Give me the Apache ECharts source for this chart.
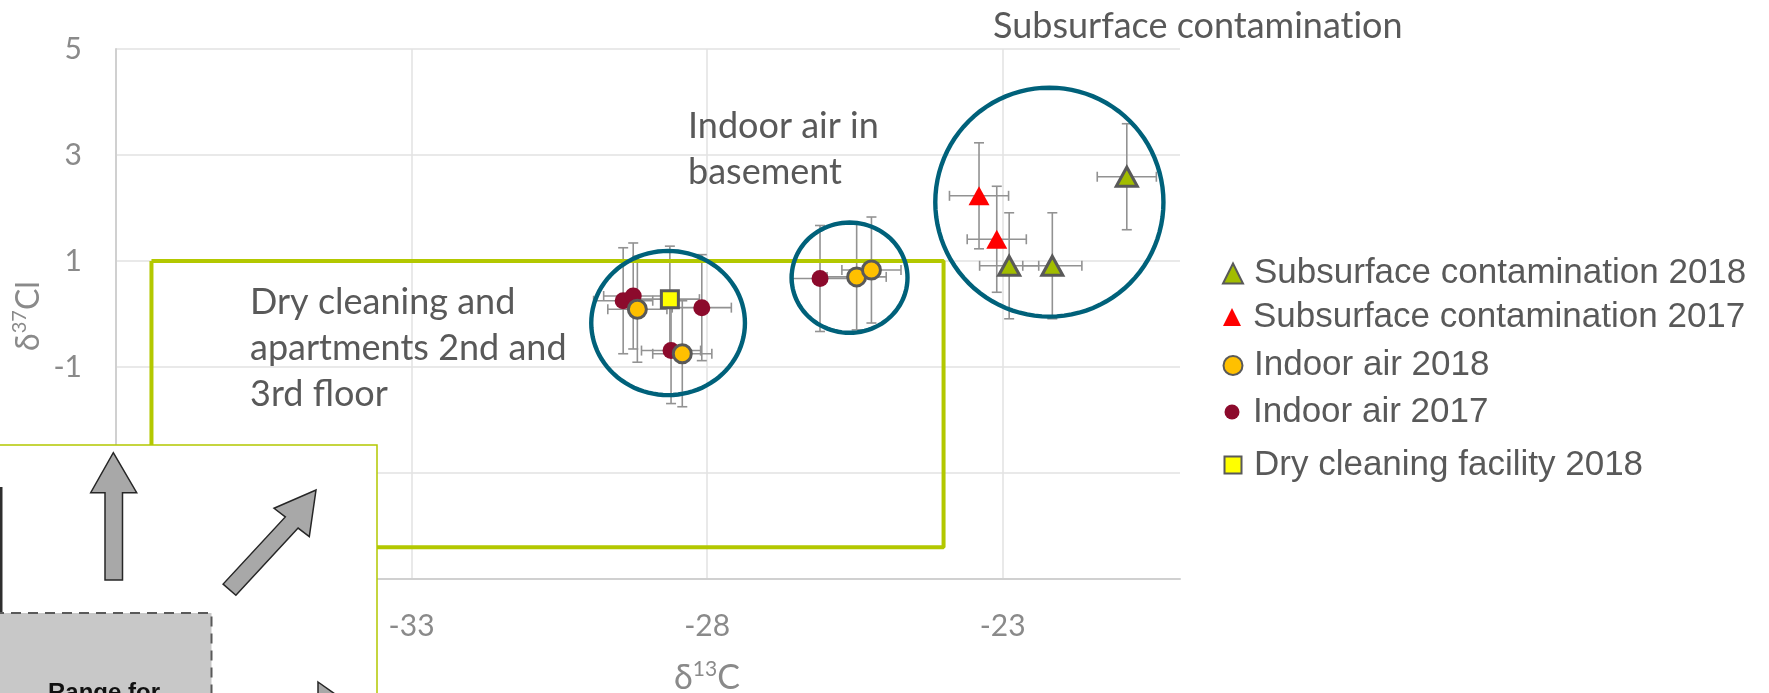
<!DOCTYPE html>
<html>
<head>
<meta charset="utf-8">
<script src="https://cdn.jsdelivr.net/npm/echarts@6/dist/echarts.min.js"></script>
<style>
  html, body { margin: 0; padding: 0; background: #ffffff; }
  #chart { width: 1769px; height: 693px; }
</style>
</head>
<body>
<div id="chart"></div>
<script>
// Isotope values [δ13C, δ37Cl] in ‰ for each sample group
const SUBSURFACE_2018 = [[-20.90, 2.59], [-22.89, 0.91], [-22.16, 0.91]];
const SUBSURFACE_2017 = [[-23.40, 2.23], [-23.10, 1.41]];
const INDOOR_2018 = [[-29.18, 0.09], [-28.42, -0.75], [-25.47, 0.70], [-25.22, 0.83]];
const INDOOR_2017 = [[-29.42, 0.25], [-29.25, 0.34], [-28.09, 0.12], [-28.61, -0.69], [-26.09, 0.67]];
const DRY_CLEANING_2018 = [[-28.63, 0.28]];

// Analytical uncertainty (± ‰)
const ERR_C13 = 0.5;
const ERR_CL37 = 1.0;

// Range box for the product signature
const RANGE_C13 = [-37.4, -24.0];
const RANGE_CL37 = [-4.4, 1.0];

// Grouping rings: [centre δ13C, centre δ37Cl, half-width δ13C, half-height δ37Cl]
const RINGS = [
  [-28.66, -0.17, 1.30, 1.36],
  [-25.59, 0.685, 0.98, 1.04],
  [-22.21, 2.11, 1.93, 2.16]
];

const X_TICKS = [-38, -33, -28, -23];
const Y_TICKS = [-5, -3, -1, 1, 3, 5];

const NAMES = [
  'Subsurface contamination 2018',
  'Subsurface contamination 2017',
  'Indoor air 2018',
  'Indoor air 2017',
  'Dry cleaning facility 2018'
];

const GREY_TEXT = '#8a8a8a';
const DARK_TEXT = '#595959';
const LABEL_FONT = 'Lato';
const ZWNJ = '\u200C'; // keeps "t" + "i" from merging into a ligature

const chart = echarts.init(document.getElementById('chart'), null, { renderer: 'canvas' });

// Cross-shaped error bars with end caps
function errorBars(data) {
  return {
    type: 'custom',
    silent: true,
    z: 2,
    data: data,
    encode: { x: 0, y: 1 },
    renderItem: function (params, api) {
      const x = api.value(0), y = api.value(1);
      const l = api.coord([x - ERR_C13, y]);
      const r = api.coord([x + ERR_C13, y]);
      const t = api.coord([x, y + ERR_CL37]);
      const b = api.coord([x, y - ERR_CL37]);
      const cap = 5;
      const style = { stroke: '#929292', lineWidth: 1.6 };
      const seg = (x1, y1, x2, y2) => ({ type: 'line', shape: { x1, y1, x2, y2 }, style });
      return {
        type: 'group',
        children: [
          seg(l[0], l[1], r[0], r[1]),
          seg(l[0], l[1] - cap, l[0], l[1] + cap),
          seg(r[0], r[1] - cap, r[0], r[1] + cap),
          seg(t[0], t[1], b[0], b[1]),
          seg(t[0] - cap, t[1], t[0] + cap, t[1]),
          seg(b[0] - cap, b[1], b[0] + cap, b[1])
        ]
      };
    }
  };
}

// Elliptical rings traced in axis units
const ringSeries = {
  type: 'custom',
  silent: true,
  z: 4,
  data: RINGS,
  encode: { x: 0, y: 1 },
  renderItem: function (params, api) {
    const cx = api.value(0), cy = api.value(1), rx = api.value(2), ry = api.value(3);
    const pts = [];
    for (let i = 0; i < 96; i++) {
      const a = (i / 96) * Math.PI * 2;
      pts.push(api.coord([cx + rx * Math.cos(a), cy + ry * Math.sin(a)]));
    }
    return {
      type: 'polygon',
      shape: { points: pts },
      style: { fill: 'none', stroke: '#00617a', lineWidth: 4.4 }
    };
  }
};

const rangeSeries = {
  type: 'line',
  silent: true,
  z: 3,
  symbol: 'none',
  data: [
    [RANGE_C13[0], RANGE_CL37[1]],
    [RANGE_C13[1], RANGE_CL37[1]],
    [RANGE_C13[1], RANGE_CL37[0]],
    [RANGE_C13[0], RANGE_CL37[0]],
    [RANGE_C13[0], RANGE_CL37[1]]
  ],
  lineStyle: { color: '#b3c800', width: 4 },
  animation: false
};

const pointSeries = [
  { name: NAMES[3], data: INDOOR_2017, symbol: 'circle', symbolSize: 17,
    itemStyle: { color: '#8c0a2c', borderWidth: 0 } },
  { name: NAMES[2], data: INDOOR_2018, symbol: 'circle', symbolSize: 18,
    itemStyle: { color: '#ffc000', borderColor: '#595959', borderWidth: 3 } },
  { name: NAMES[4], data: DRY_CLEANING_2018, symbol: 'rect', symbolSize: 17,
    itemStyle: { color: '#ffff00', borderColor: '#595959', borderWidth: 3 } },
  { name: NAMES[1], data: SUBSURFACE_2017, symbol: 'triangle', symbolSize: [21, 19],
    itemStyle: { color: '#ff0000', borderWidth: 0 } },
  { name: NAMES[0], data: SUBSURFACE_2018, symbol: 'triangle', symbolSize: [21, 19],
    itemStyle: { color: '#a2bd00', borderColor: '#595959', borderWidth: 3 } }
].map(s => {
  s.itemStyle.opacity = 1;
  return Object.assign({ type: 'scatter', z: 5 }, s);
});

// Legend entries: [series name, icon size, row anchor y]
const LEGEND_ROWS = [
  [NAMES[0], 20, 266],
  [NAMES[1], 18, 308.5],
  [NAMES[2], 19, 357.5],
  [NAMES[3], 15, 402],
  [NAMES[4], 17, 456]
];
const legends = LEGEND_ROWS.map(([name, size, cy]) => ({
  data: [name],
  orient: 'vertical',
  left: 1232 - size / 2,
  top: cy - size / 2,
  padding: 0,
  itemWidth: size,
  itemHeight: size,
  selectedMode: false,
  textStyle: {
    fontFamily: 'Liberation Sans',
    fontSize: 35,
    lineHeight: size,
    color: DARK_TEXT,
    padding: [0, 0, 0, 1253 - (1232 - size / 2) - size - 5]
  }
}));

// Free text labels on the plot
function note(text, x, y) {
  return {
    type: 'text', z: 50, silent: true,
    style: {
      text: text, x: x, y: y,
      font: '36px Lato', fill: DARK_TEXT,
      align: 'left', verticalAlign: 'top', lineHeight: 46
    }
  };
}

// Axis title with a superscript mass number
function axisTitle(pre, sup, post, x, y, rotation, size) {
  return {
    type: 'text', z: 50, silent: true, x: x, y: y, rotation: rotation,
    style: {
      text: pre + '{s|' + sup + '}' + post,
      fill: GREY_TEXT, font: size + 'px Lato',
      align: 'center', verticalAlign: 'middle',
      rich: {
        s: { fontFamily: LABEL_FONT, fontSize: Math.round(size * 0.62), lineHeight: 22, verticalAlign: 'top', fill: GREY_TEXT }
      },
      lineHeight: 38
    }
  };
}

// Inset diagram in the lower left corner
const inset = {
  type: 'group', z: 100, silent: true,
  children: [
    { type: 'rect', z: 100, shape: { x: -4, y: 445, width: 381, height: 260 },
      style: { fill: '#ffffff', stroke: '#b3c800', lineWidth: 1.5 } },
    { type: 'line', z: 101, shape: { x1: 1.2, y1: 487, x2: 1.2, y2: 700 },
      style: { stroke: '#2e2e2e', lineWidth: 2.6 } },
    { type: 'rect', z: 101, shape: { x: -6, y: 613, width: 217.5, height: 100 },
      style: { fill: '#c8c8c8', stroke: '#5a5a5a', lineWidth: 2, lineDash: [10, 7] } },
    { type: 'text', z: 102, style: { text: 'Range for', x: 48, y: 681,
      font: 'bold 24px "Liberation Sans"', fill: '#111111', align: 'left', verticalAlign: 'top' } },
    { type: 'polygon', z: 101, shape: { points: [
        [113.3, 452.7], [136.7, 492.7], [122.5, 492.7], [122.5, 580],
        [105, 580], [105, 492.7], [90.7, 492.7]] },
      style: { fill: '#a8a8a8', stroke: '#262626', lineWidth: 1.5 } },
    { type: 'polygon', z: 101, shape: { points: [
        [316, 490], [309.3, 536.7], [298.1, 528.1], [235.9, 595.3],
        [223.1, 584.1], [285.3, 516.9], [274, 508.3]] },
      style: { fill: '#a8a8a8', stroke: '#262626', lineWidth: 1.5 } },
    { type: 'polygon', z: 101, shape: { points: [[318, 682], [352, 706], [318, 730]] },
      style: { fill: '#a8a8a8', stroke: '#262626', lineWidth: 1.5 } }
  ]
};

const option = {
  backgroundColor: '#ffffff',
  animation: false,
  grid: { left: 116, right: 589, top: 49, bottom: 114, containLabel: false },
  xAxis: {
    type: 'value', min: -38, max: -20,
    axisLine: { show: true, onZero: false, lineStyle: { color: '#d0d0d0', width: 2 } },
    axisTick: { show: false, customValues: X_TICKS },
    axisLabel: { customValues: X_TICKS, color: GREY_TEXT, fontFamily: LABEL_FONT, fontSize: 30, margin: 32 },
    splitLine: { show: true, lineStyle: { color: '#e2e2e2', width: 1.5 } }
  },
  yAxis: {
    type: 'value', min: -5, max: 5,
    axisLine: { show: true, onZero: false, lineStyle: { color: '#d0d0d0', width: 2 } },
    axisTick: { show: false, customValues: Y_TICKS },
    axisLabel: { customValues: Y_TICKS, color: GREY_TEXT, fontFamily: LABEL_FONT, fontSize: 30, margin: 34 },
    splitLine: { show: true, lineStyle: { color: '#e2e2e2', width: 1.5 } }
  },
  legend: legends,
  series: [
    errorBars(INDOOR_2017),
    errorBars(INDOOR_2018),
    errorBars(DRY_CLEANING_2018),
    errorBars(SUBSURFACE_2017),
    errorBars(SUBSURFACE_2018),
    rangeSeries,
    ringSeries
  ].concat(pointSeries),
  graphic: [
    note('Subsurface contaminat' + ZWNJ + 'ion', 993, 3),
    note('Indoor air in\nbasement', 688, 103),
    note('Dry cleaning and\napartments 2nd and\n3rd floor', 250, 279),
    axisTitle('δ', '13', 'C', 707, 678, 0, 34),
    axisTitle('δ', '37', 'Cl', 29, 316, Math.PI / 2, 32),
    inset
  ]
};

chart.setOption(option);
</script>
</body>
</html>
